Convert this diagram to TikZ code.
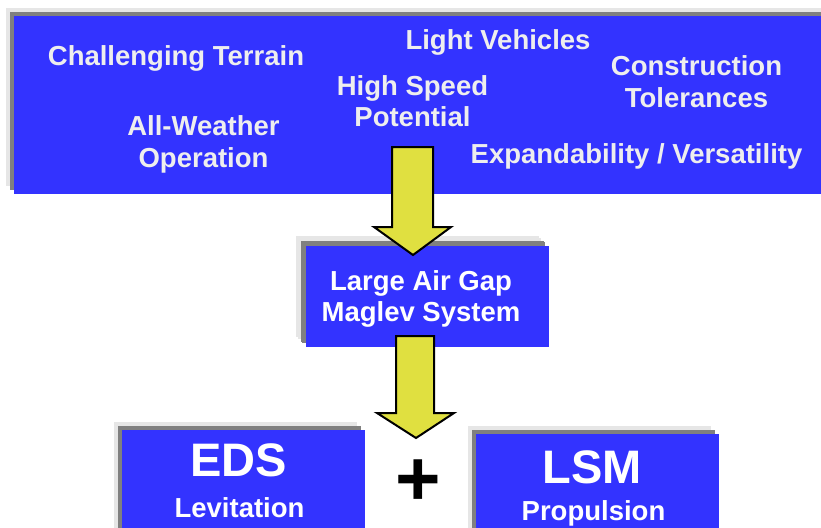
\documentclass[tikz,border=0pt]{standalone}
\usepackage{fontspec}
\setmainfont{Liberation Sans}
\usetikzlibrary{shadows}
\definecolor{panelblue}{RGB}{51,51,255}
\definecolor{shadeA}{RGB}{230,230,230}
\definecolor{shadeB}{RGB}{128,128,128}
\definecolor{arrowyellow}{RGB}{224,224,64}
\definecolor{softwhite}{RGB}{238,238,238}
\begin{document}
\begin{tikzpicture}[x=1pt,y=-1pt,
  panel/.style={fill=panelblue, inner sep=0pt, anchor=north west,
    general shadow={shadow xshift=-8pt,shadow yshift=8pt,fill=shadeA},
    general shadow={shadow xshift=-4pt,shadow yshift=4pt,fill=shadeB}},
  toplabel/.style={font=\bfseries\fontsize{27.5}{31.7}\selectfont, text=softwhite, align=center, inner sep=0pt, anchor=base},
  boxlabel/.style={font=\bfseries\fontsize{27.5}{31.7}\selectfont, text=white, align=center, inner sep=0pt, anchor=base},
  biglabel/.style={font=\bfseries\fontsize{47}{50}\selectfont, text=white, inner sep=0pt, anchor=base},
  blockarrow/.style={fill=arrowyellow, draw=black, line width=2pt, line join=miter}]
\useasboundingbox (0,0) rectangle (821,527);
\fill[white] (0,0) rectangle (821,527);

% panels
\node[panel, minimum width=826pt, minimum height=178pt] (needs) at (14,16) {};
\node[panel, minimum width=243pt, minimum height=101pt,
  general shadow={shadow xshift=-10pt,shadow yshift=10pt,fill=shadeA},
  general shadow={shadow xshift=-5pt,shadow yshift=5pt,fill=shadeB}] (maglev) at (306,246) {};
\node[panel, minimum width=243pt, minimum height=120pt] (eds) at (122,430) {};
\node[panel, minimum width=243pt, minimum height=120pt] (lsm) at (476,434) {};

% block arrows
\draw[blockarrow] (392,147) -- (433,147) -- (433,227) -- (451,227) -- (413,255)
  -- (374,227) -- (392,227) -- cycle;
\draw[blockarrow] (396,336) -- (434,336) -- (434,413) -- (454,413) -- (416,438)
  -- (377,413) -- (396,413) -- cycle;

% top labels (multi-line nodes: base = baseline of last line)
\node[toplabel] (terrain) at (176,65) {Challenging Terrain};
\node[toplabel] (light) at (498,49.5) {Light Vehicles};
\node[toplabel] (speed) at (412.5,126.7) {High Speed\\Potential};
\node[toplabel] (constr) at (696.5,107) {Construction\\Tolerances};
\node[toplabel] (weather) at (203.5,167) {All-Weather\\Operation};
\node[toplabel] (expand) at (636.5,163) {Expandability / Versatility};

% middle
\node[boxlabel] (maglevtext) at (421,321.7) {Large Air Gap\\Maglev System};

% bottom
\node[biglabel] (edstext) at (238.5,476) {EDS};
\node[boxlabel] (levtext) at (239.5,517) {Levitation};
\node[biglabel] (lsmtext) at (592,483) {LSM};
\node[boxlabel] (proptext) at (593.5,520) {Propulsion};

% plus
\node[font=\bfseries\fontsize{78}{80}\selectfont, inner sep=0pt, anchor=base] (plus) at (418,505) {+};
\end{tikzpicture}
\end{document}
